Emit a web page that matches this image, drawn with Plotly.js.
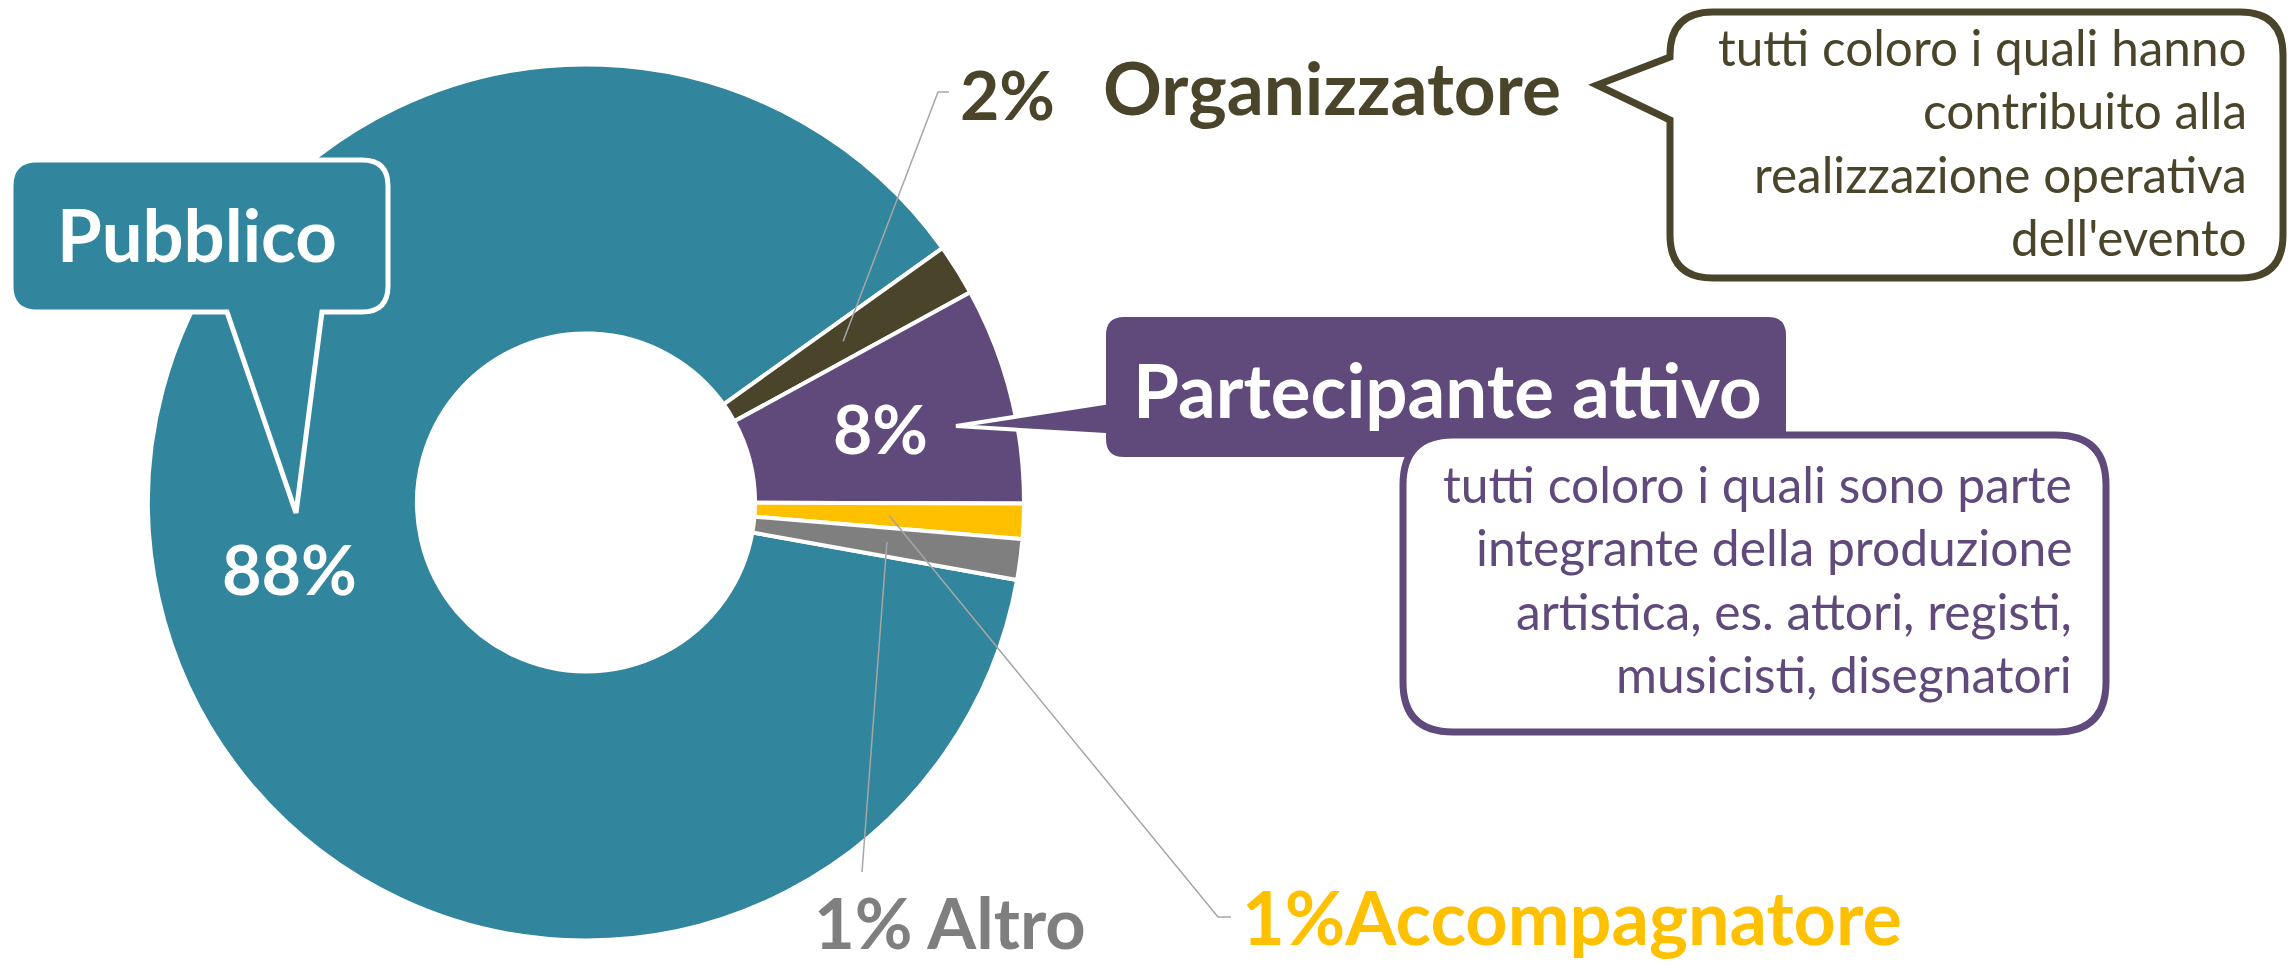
<!DOCTYPE html>
<html>
<head>
<meta charset="utf-8">
<script src="https://cdn.plot.ly/plotly-3.0.1.min.js"></script>
<style>
  html, body { margin: 0; padding: 0; background: #fff; }
  #chart { width: 2292px; height: 965px; }
</style>
</head>
<body>
<div id="chart"></div>
<script>
// quote dei ruoli (angoli delle fette)
var categories = ["Pubblico", "Organizzatore", "Partecipante attivo", "Accompagnatore", "Altro"];
var shares = [87.3, 1.9, 8.0, 1.3, 1.5];
var pctLabels = ["88%", "2%", "8%", "1%", "1%"];
var colors = ["#31859C", "#4A452A", "#604A7B", "#FFC000", "#7F7F7F"];

var descOrganizzatore = ["tutti coloro i quali hanno", "contribuito alla", "realizzazione operativa", "dell'evento"];
var descPartecipante = ["tutti coloro i quali sono parte", "integrante della produzione", "artistica, es. attori, registi,", "musicisti, disegnatori"];

// geometry of the page (pixels)
var W = 2292, H = 965;
var cx = 586, cy = 502.5, R = 438, hole = 0.386, rot = 100.2;

function px(x) { return x / W; }
function py(y) { return 1 - y / H; }
function P(x, y) { return px(x) + "," + py(y); }

// middle of a slice, at half ring
function midPoint(i) {
  var total = shares.reduce(function (a, b) { return a + b; }, 0);
  var before = shares.slice(0, i).reduce(function (a, b) { return a + b; }, 0);
  var a = (rot + 360 * (before + shares[i] / 2) / total) * Math.PI / 180;
  var rm = R * (1 + hole) / 2;
  return [cx + rm * Math.sin(a), cy - rm * Math.cos(a)];
}

// font size so that text gets the width seen in the picture
var ctx = document.createElement("canvas").getContext("2d");
function fit(text, weight, target) {
  ctx.font = weight + " 100px Lato";
  return 100 * target / ctx.measureText(text).width;
}

function roundBox(x0, y0, x1, y1, r, bottomTail, leftTail) {
  var d = "M" + P(x0 + r, y0) + " L" + P(x1 - r, y0) + " Q" + P(x1, y0) + " " + P(x1, y0 + r) +
    " L" + P(x1, y1 - r) + " Q" + P(x1, y1) + " " + P(x1 - r, y1);
  if (bottomTail) {
    d += " L" + P(bottomTail[2], y1) + " L" + P(bottomTail[1][0], bottomTail[1][1]) + " L" + P(bottomTail[0], y1);
  }
  d += " L" + P(x0 + r, y1) + " Q" + P(x0, y1) + " " + P(x0, y1 - r);
  if (leftTail) {
    d += " L" + P(x0, leftTail[2]) + " L" + P(leftTail[1][0], leftTail[1][1]) + " L" + P(x0, leftTail[0]);
  }
  d += " L" + P(x0, y0 + r) + " Q" + P(x0, y0) + " " + P(x0 + r, y0) + " Z";
  return d;
}

var pie = {
  type: "pie",
  labels: categories,
  values: shares,
  sort: false,
  direction: "clockwise",
  rotation: rot,
  hole: hole,
  textinfo: "none",
  hoverinfo: "skip",
  marker: { colors: colors, line: { color: "#ffffff", width: 4 } },
  domain: { x: [px(cx - R), px(cx + R)], y: [py(cy + R), py(cy - R)] }
};

var grey = "#A6A6A6";
var pOrg = midPoint(1), pAcc = midPoint(3), pAltro = midPoint(4);

var shapes = [
  // leader lines
  { type: "path", xref: "paper", yref: "paper", layer: "above",
    path: "M" + P(pOrg[0], pOrg[1]) + " L" + P(938, 92) + " L" + P(949, 92),
    line: { color: grey, width: 1.5 } },
  { type: "path", xref: "paper", yref: "paper", layer: "above",
    path: "M" + P(pAcc[0], pAcc[1]) + " L" + P(1218, 917) + " L" + P(1231, 917),
    line: { color: grey, width: 1.5 } },
  { type: "path", xref: "paper", yref: "paper", layer: "above",
    path: "M" + P(pAltro[0], pAltro[1]) + " L" + P(862, 872),
    line: { color: grey, width: 1.5 } },
  // Pubblico callout
  { type: "path", xref: "paper", yref: "paper", layer: "above",
    path: roundBox(11, 160, 388, 312, 26, [227, [296, 513], 322], null),
    fillcolor: colors[0], line: { color: "#ffffff", width: 5 } },
  // Partecipante attivo callout
  { type: "path", xref: "paper", yref: "paper", layer: "above",
    path: roundBox(1104, 315, 1788, 459, 20, null, [403, [956, 426], 435]),
    fillcolor: colors[2], line: { color: "#ffffff", width: 4 } },
  // description boxes
  { type: "path", xref: "paper", yref: "paper", layer: "above",
    path: roundBox(1403, 435, 2106, 732, 50, null, null),
    fillcolor: "#ffffff", line: { color: colors[2], width: 7 } },
  { type: "path", xref: "paper", yref: "paper", layer: "above",
    path: roundBox(1670, 12, 2283, 278, 43, null, [57, [1597, 85], 120]),
    fillcolor: "#ffffff", line: { color: colors[1], width: 7 } }
];

function label(text, x, y, xanchor, color, width, weight) {
  var w = weight || 700;
  return {
    xref: "paper", yref: "paper", x: px(x), y: py(y),
    xanchor: xanchor, yanchor: "middle", showarrow: false,
    text: text, borderpad: 0,
    font: { family: "Lato", size: fit(text, w, width), color: color, weight: w }
  };
}

var pPub = midPoint(0), pPart = midPoint(2);
var annotations = [
  label(categories[0], 197, 234, "center", "#ffffff", 280),
  label(pctLabels[0], pPub[0], pPub[1], "center", "#ffffff", 135),
  label(pctLabels[2], pPart[0], pPart[1], "center", "#ffffff", 95),
  label(pctLabels[1], 1007, 94, "center", colors[1], 95),
  label(categories[1], 1102, 87, "left", colors[1], 458),
  label(categories[2], 1447, 389, "center", "#ffffff", 629),
  label(pctLabels[4] + " " + categories[4], 813, 921, "left", colors[4], 274),
  label(pctLabels[3] + categories[3], 1241, 916, "left", colors[3], 660)
];

// right aligned description lines
var sOrg = fit(descOrganizzatore[2], 400, 493);
var baseOrg = [66, 129.5, 193, 256.5];
descOrganizzatore.forEach(function (t, i) {
  annotations.push({
    xref: "paper", yref: "paper", x: px(2248), y: py(baseOrg[i] - 0.387 * sOrg),
    xanchor: "right", yanchor: "middle", showarrow: false, text: t, borderpad: 0,
    font: { family: "Lato", size: sOrg, color: colors[1] }
  });
});
var sPart = fit(descPartecipante[0], 400, 629);
var basePart = [503, 566.5, 630, 693.5];
descPartecipante.forEach(function (t, i) {
  annotations.push({
    xref: "paper", yref: "paper", x: px(2073), y: py(basePart[i] - 0.387 * sPart),
    xanchor: "right", yanchor: "middle", showarrow: false, text: t, borderpad: 0,
    font: { family: "Lato", size: sPart, color: colors[2] }
  });
});

var layout = {
  width: W,
  height: H,
  margin: { l: 0, r: 0, t: 0, b: 0 },
  paper_bgcolor: "#ffffff",
  showlegend: false,
  shapes: shapes,
  annotations: annotations
};

Plotly.newPlot("chart", [pie], layout, { displayModeBar: false, staticPlot: true });
</script>
</body>
</html>
